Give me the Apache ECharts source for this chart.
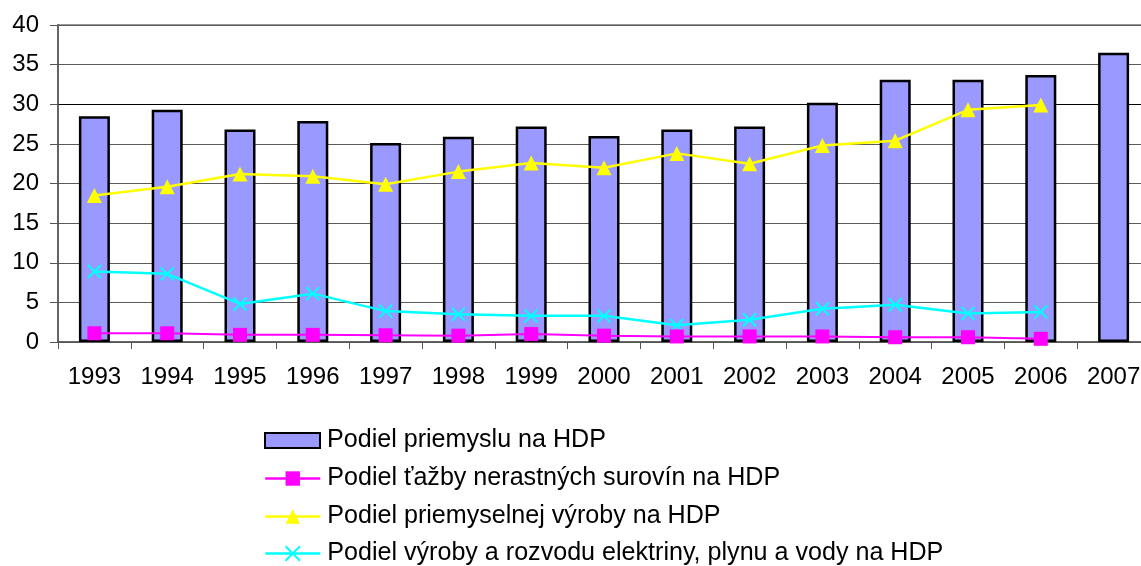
<!DOCTYPE html>
<html>
<head>
<meta charset="utf-8">
<script src="https://cdn.jsdelivr.net/npm/echarts@6/dist/echarts.min.js"></script>
<style>
html,body{margin:0;padding:0;background:#fff;overflow:hidden;}
#chart{width:1150px;height:566px;}
</style>
</head>
<body>
<div id="chart"></div>
<script>
const categories = ['1993','1994','1995','1996','1997','1998','1999','2000','2001','2002','2003','2004','2005','2006','2007'];
const seriesNames = [
  'Podiel priemyslu na HDP',
  'Podiel ťažby nerastných surovín na HDP',
  'Podiel priemyselnej výroby na HDP',
  'Podiel výroby a rozvodu elektriny, plynu a vody na HDP'
];
const industryShare = [28.5, 29.3, 26.8, 27.9, 25.1, 25.9, 27.2, 26.0, 26.8, 27.2, 30.2, 33.1, 33.1, 33.7, 36.5];
const miningShare = [1.1, 1.1, 0.9, 0.9, 0.85, 0.8, 1.0, 0.8, 0.7, 0.7, 0.7, 0.6, 0.6, 0.4, null];
const manufacturingShare = [18.5, 19.6, 21.2, 20.9, 19.9, 21.5, 22.6, 22.0, 23.8, 22.5, 24.8, 25.4, 29.3, 29.9, null];
const utilitiesShare = [8.9, 8.6, 4.8, 6.1, 3.9, 3.5, 3.3, 3.3, 2.1, 2.8, 4.2, 4.7, 3.6, 3.8, null];
const yTicks = [0, 5, 10, 15, 20, 25, 30, 35, 40];

const FONT = '"Liberation Sans", Arial, sans-serif';
const chart = echarts.init(document.getElementById('chart'), null, {renderer: 'canvas'});
const gridColors = yTicks.map(v => v === 30 ? '#000000' : '#5a5a5a');

const legendTops = [428, 466, 504, 541];
const legends = seriesNames.map((name, i) => ({
  orient: 'vertical',
  left: 264, top: legendTops[i],
  padding: 0,
  itemWidth: 55,
  itemHeight: i === 0 ? 15 : 18,
  lineStyle: {width: 2.5},
  textStyle: {fontFamily: FONT, fontSize: 25.1, color: '#000', padding: [0, 0, 0, 2]},
  data: [i === 0 ? {name: name, icon: 'rect'} : {name: name}]
}));

chart.setOption({
  animation: false,
  backgroundColor: '#ffffff',
  textStyle: {fontFamily: FONT},
  grid: {
    left: 58, right: 0, top: 25, bottom: 224,
    show: true, borderColor: '#999999', borderWidth: 2
  },
  legend: legends,
  xAxis: {
    type: 'category',
    data: categories,
    boundaryGap: true,
    axisLine: {lineStyle: {color: '#555555', width: 1.5}},
    axisTick: {show: true, length: 7, lineStyle: {color: '#555555', width: 1}},
    axisLabel: {color: '#000', fontSize: 24, fontFamily: FONT, margin: 23},
    splitLine: {show: false}
  },
  yAxis: {
    type: 'value',
    min: 0, max: 40, interval: 5,
    axisLine: {show: true, lineStyle: {color: '#555555', width: 1.5}},
    axisTick: {show: true, length: 8, lineStyle: {color: '#555555'}},
    axisLabel: {color: '#000', fontSize: 24, fontFamily: FONT, margin: 19},
    splitLine: {show: true, lineStyle: {color: gridColors, width: 1}}
  },
  series: [
    {
      name: seriesNames[0],
      type: 'bar',
      data: industryShare,
      barWidth: 31,
      itemStyle: {color: '#9999FF', borderColor: '#000000', borderWidth: 2.5},
      z: 2
    },
    {
      name: seriesNames[1],
      type: 'line',
      data: miningShare,
      symbol: 'rect', symbolSize: 14,
      itemStyle: {color: '#FF00FF'},
      lineStyle: {color: '#FF00FF', width: 2},
      z: 4
    },
    {
      name: seriesNames[2],
      type: 'line',
      data: manufacturingShare,
      symbol: 'triangle', symbolSize: 15,
      itemStyle: {color: '#FFFF00'},
      lineStyle: {color: '#FFFF00', width: 2.5},
      z: 3
    },
    {
      name: seriesNames[3],
      type: 'line',
      data: utilitiesShare,
      symbol: 'path://M0,0L10,10M10,0L0,10', symbolSize: 13,
      itemStyle: {color: '#00FFFF', borderColor: '#00FFFF', borderWidth: 2},
      lineStyle: {color: '#00FFFF', width: 2.5},
      z: 3
    }
  ]
});
</script>
</body>
</html>
